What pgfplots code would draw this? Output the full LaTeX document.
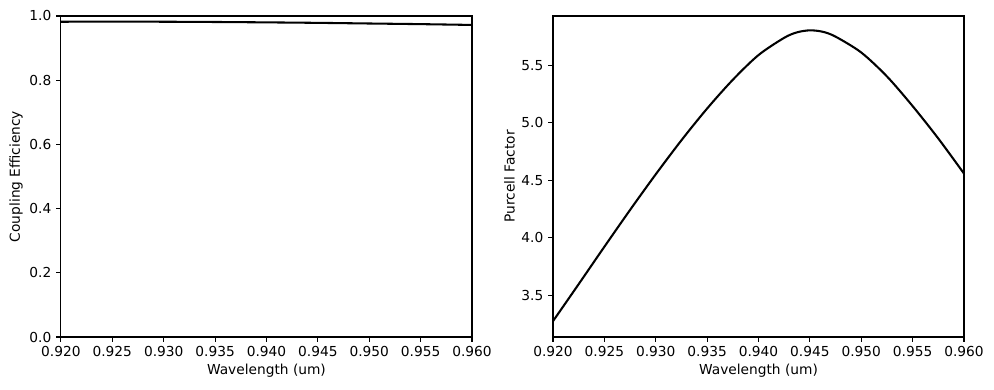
\documentclass[border=0pt]{standalone}
\usepackage{pgfplots}
\pgfplotsset{compat=1.18}
\usepackage{fontspec}
\setmainfont{DejaVu Sans}
\begin{document}
\begin{tikzpicture}
\pgfplotsset{
  every axis/.style={
    scale only axis,
    width=298.8pt, height=233.4pt,
    axis line style={line width=0.8pt},
    tick align=outside,
    xtick pos=bottom, ytick pos=left,
    major tick length=3.5pt,
    every tick/.style={black, line width=0.8pt},
    tick label style={font=\fontsize{10}{12}\selectfont},
    label style={font=\fontsize{10}{12}\selectfont},
    /pgf/number format/assume math mode=true,
    xmin=0.92, xmax=0.96,
    xtick={0.920,0.925,...,0.9601},
    xticklabel style={/pgf/number format/.cd, fixed, fixed zerofill, precision=3},
    scaled x ticks=false,
    xlabel={Wavelength (um)},
    xlabel style={yshift=2pt},
    ylabel style={yshift=-2pt},
  }
}
\path (-44.3pt,-38.5pt) rectangle (678.3pt,245pt);
\begin{axis}[at={(0pt,0pt)}, anchor=south west,
  ymin=0, ymax=1, ytick={0,0.2,...,1.01},
  yticklabel style={/pgf/number format/.cd, fixed, fixed zerofill, precision=1},
  ylabel={Coupling Efficiency}]
\addplot[black, line width=1.5pt, smooth] coordinates {
(0.920,0.9820) (0.925,0.9822) (0.930,0.9820) (0.935,0.9812) (0.940,0.9800)
(0.945,0.9785) (0.950,0.9765) (0.955,0.9745) (0.960,0.9720)};
\end{axis}
\begin{axis}[at={(357.7pt,0pt)}, anchor=south west,
  ymin=3.137, ymax=5.929, ytick={3.5,4.0,...,5.51},
  yticklabel style={/pgf/number format/.cd, fixed, fixed zerofill, precision=1},
  ylabel={Purcell Factor}]
\addplot[black, line width=1.5pt, smooth] coordinates {
(0.9200,3.275) (0.9225,3.597) (0.9250,3.922) (0.9275,4.242) (0.9300,4.552)
(0.9325,4.848) (0.9350,5.124) (0.9375,5.374) (0.9400,5.589) (0.9425,5.739)
(0.94375,5.7865) (0.9450,5.804) (0.94625,5.7915) (0.9475,5.749) (0.9500,5.611)
(0.9525,5.403) (0.9550,5.145) (0.9575,4.863) (0.9600,4.558)};
\end{axis}
\end{tikzpicture}
\end{document}
